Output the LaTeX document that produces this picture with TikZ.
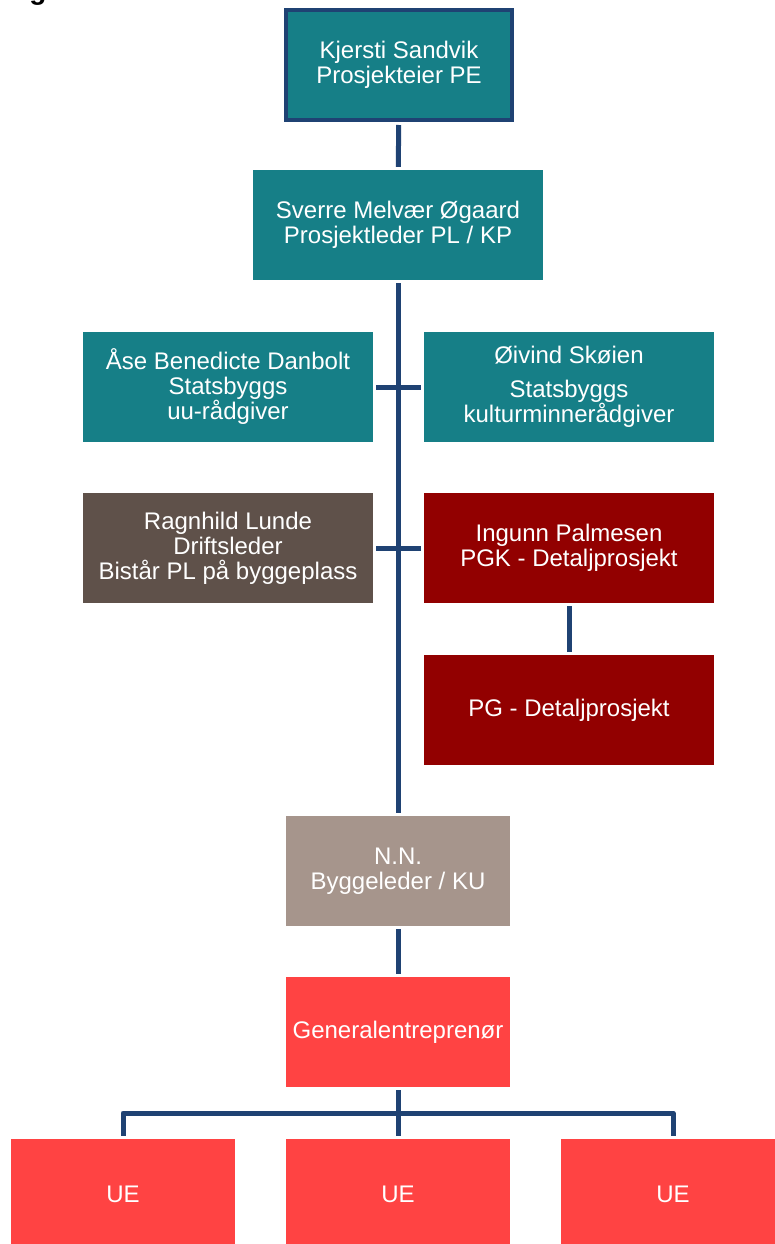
\documentclass[tikz,border=0pt]{standalone}
\usepackage{fontspec}
\setmainfont{Liberation Sans}
\definecolor{orgteal}{RGB}{22,127,135}
\definecolor{orgnavy}{RGB}{31,66,115}
\definecolor{orgbrown}{RGB}{95,81,74}
\definecolor{orgdarkred}{RGB}{146,0,0}
\definecolor{orgtaupe}{RGB}{166,149,140}
\definecolor{orgred}{RGB}{255,67,67}
\usetikzlibrary{positioning,calc}

\begin{document}
\begin{tikzpicture}[x=1pt, y=-1pt,
    box/.style={minimum width=290, minimum height=110, inner sep=0pt,
        text=white, align=center, font=\fontsize{24}{25}\selectfont},
    smallbox/.style={box, minimum width=224},
    link/.style={draw=orgnavy, line width=5pt, shorten >=3pt, shorten <=3pt}]
    \useasboundingbox (0,0) rectangle (775,1244);
    \clip (0,0) rectangle (775,1244);

    % Cut-off heading
    \node[anchor=base, font=\bfseries\fontsize{28}{30}\selectfont] (heading) at (38,0) {g};

    % Owner and project leader
    \node[box, fill=orgteal, draw=orgnavy, line width=4pt, minimum width=226] (owner) at (399,65)
        {Kjersti Sandvik\\Prosjekteier PE};
    \node[box, fill=orgteal] (leader) at (398,225)
        {Sverre Melvær Øgaard\\Prosjektleder PL / KP};

    % Advisers
    \node[box, fill=orgteal] (uu) at (228,387)
        {Åse Benedicte Danbolt\\Statsbyggs\\uu-rådgiver};
    \node[box, fill=orgteal] (kultur) at (569,387)
        {Øivind Skøien\\[9pt]Statsbyggs\\kulturminnerådgiver};

    % Site and design
    \node[box, fill=orgbrown] (drift) at (228,548)
        {Ragnhild Lunde\\Driftsleder\\Bistår PL på byggeplass};
    \node[box, fill=orgdarkred] (pgk) at (569,548)
        {Ingunn Palmesen\\PGK - Detaljprosjekt};
    \node[box, fill=orgdarkred] (pg) at (569,710) {PG - Detaljprosjekt};

    % Construction
    \node[smallbox, fill=orgtaupe] (byggeleder) at (398,871)
        {N.N.\\Byggeleder / KU};
    \node[smallbox, fill=orgred] (ge) at (398,1032) {Generalentreprenør};
    \node[smallbox, fill=orgred] (ue1) at (123,1194) {UE};
    \node[smallbox, fill=orgred] (ue2) at (398,1194) {UE};
    \node[smallbox, fill=orgred] (ue3) at (673,1194) {UE};

    % Connectors
    \draw[link] (owner) -- (leader);
    \draw[link] (leader) -- (byggeleder);
    \draw[link] (uu) -- (kultur);
    \draw[link] (drift) -- (pgk);
    \draw[link] (pgk) -- (pg);
    \draw[link] (byggeleder) -- (ge);
    \coordinate (bus) at (398,1113);
    \draw[link, shorten >=0pt] (ge) -- (bus);
    \draw[link, shorten <=0pt, line join=round] (bus) -| (ue1);
    \draw[link, shorten <=0pt, line join=round] (bus) -| (ue3);
    \draw[link, shorten <=0pt] (bus) -- (ue2);
\end{tikzpicture}
\end{document}
